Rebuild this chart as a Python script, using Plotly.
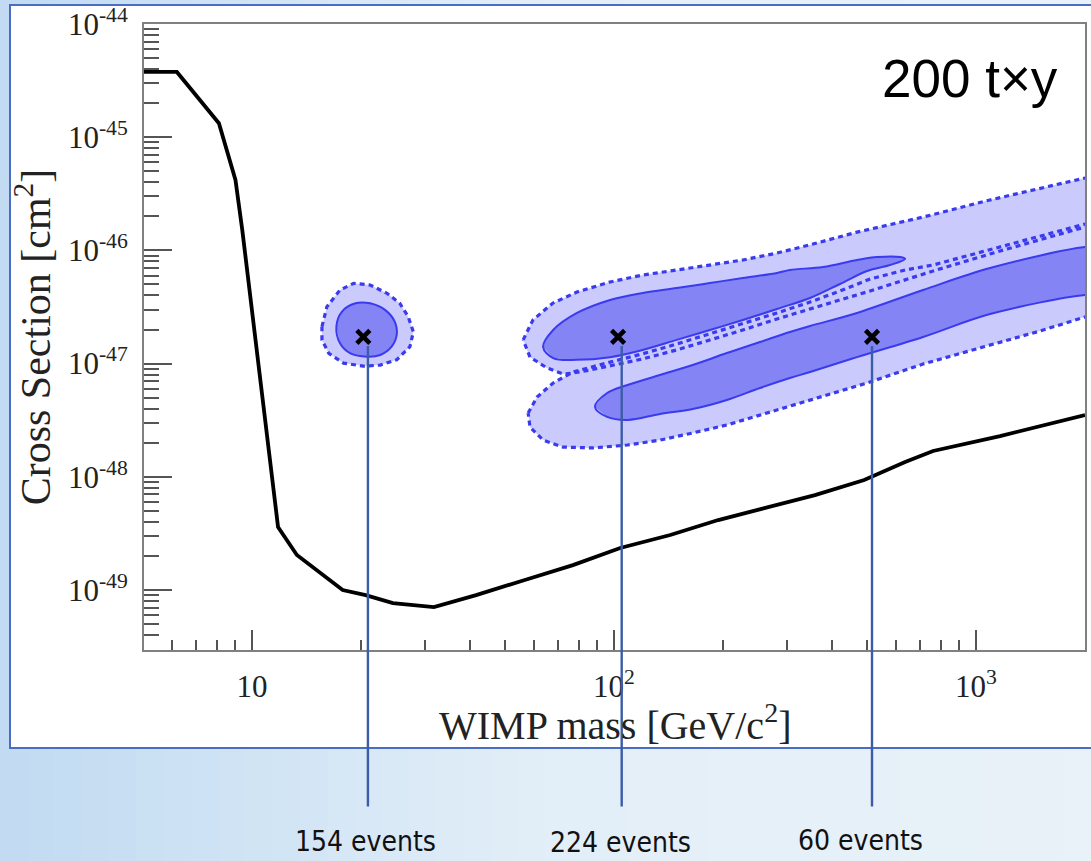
import numpy as np
import plotly.graph_objects as go

# ---------------- data (mass in GeV/c^2, cross section in cm^2) ----------------
limit_mass = [5.0, 6.2, 8.1, 9.0, 9.4, 9.9, 10.3, 11.0, 11.4, 11.8, 13.3, 15.1, 17.8, 20.6,
              24.5, 31.8, 41.6, 56.4, 77.0, 104, 143, 194, 265, 359, 491, 637, 761, 1165, 2000]
limit_xs = [3.77e-45, 3.77e-45, 1.33e-45, 4.19e-46, 1.51e-46, 3.89e-47, 1.40e-47, 2.59e-48,
            9.37e-49, 3.60e-49, 2.04e-49, 1.50e-49, 1.00e-49, 9.0e-50, 7.67e-50, 7.07e-50,
            9.0e-50, 1.22e-49, 1.66e-49, 2.35e-49, 3.06e-49, 4.15e-49, 5.41e-49, 6.90e-49,
            9.37e-49, 1.35e-48, 1.69e-48, 2.29e-48, 3.51e-48]

# 20 GeV point: 2-sigma (outer) and 1-sigma (inner) contours
c20_out_mass = [15.6, 16.1, 17.5, 19.1, 21.2, 23.6, 25.6, 27.0, 27.9, 27.3, 25.1, 22.6, 20.3, 17.9, 16.3, 15.6]
c20_out_xs = [2.12e-47, 3.18e-47, 4.47e-47, 5.12e-47, 4.95e-47, 4.18e-47, 3.41e-47, 2.60e-47,
              1.91e-47, 1.41e-47, 1.08e-47, 9.7e-48, 9.5e-48, 1.01e-47, 1.23e-47, 1.62e-47]
c20_in_mass = [17.1, 17.7, 19.3, 21.2, 23.3, 24.8, 25.1, 24.3, 22.6, 20.8, 18.7, 17.5]
c20_in_xs = [2.12e-47, 2.87e-47, 3.41e-47, 3.41e-47, 2.98e-47, 2.34e-47, 1.79e-47, 1.41e-47,
             1.19e-47, 1.15e-47, 1.23e-47, 1.51e-47]

# 100 GeV point (upper band)
c100_out_mass = [56.1, 59.7, 67.8, 79.0, 97.5, 120, 149, 184, 227, 282, 348, 469, 714, 1093, 2000,
                 2300, 2300,
                 2000, 1165, 761, 637, 510, 421, 348, 282, 227, 184, 149, 120, 97.5, 85.9, 77.0,
                 72.3, 65.3, 58.6]
c100_out_xs = [1.62e-47, 2.43e-47, 3.43e-47, 4.29e-47, 5.26e-47, 6.06e-47, 6.71e-47, 7.43e-47,
               8.23e-47, 9.48e-47, 1.12e-46, 1.45e-46, 1.97e-46, 2.79e-46, 4.36e-46,
               4.36e-46, 1.61e-46,
               1.61e-46, 9.88e-47, 6.58e-47, 5.48e-47, 4.38e-47, 3.65e-47, 3.04e-47, 2.48e-47,
               1.98e-47, 1.62e-47, 1.32e-47, 1.10e-47, 9.52e-48, 8.78e-48, 8.26e-48, 8.09e-48,
               9.15e-48, 1.14e-47]
c100_in_mass = [63.7, 67.9, 79.0, 97.5, 120, 149, 184, 227, 282, 306, 378, 469, 533, 617, 637,
                579, 500, 421, 348, 282, 227, 184, 149, 120, 97.5, 79.0, 67.9]
c100_in_xs = [1.40e-47, 1.98e-47, 2.80e-47, 3.65e-47, 4.21e-47, 4.65e-47, 5.15e-47, 5.70e-47,
              6.31e-47, 6.71e-47, 7.14e-47, 8.23e-47, 8.74e-47, 8.74e-47, 8.40e-47,
              7.43e-47, 6.58e-47, 5.05e-47, 3.80e-47, 3.04e-47, 2.43e-47, 1.98e-47, 1.62e-47,
              1.32e-47, 1.14e-47, 1.08e-47, 1.12e-47]

# 500 GeV point (lower band)
c500_out_mass = [57.9, 61.3, 67.9, 77.0, 97.5, 120, 149, 184, 227, 282, 348, 421, 510, 637, 761,
                 1165, 2000, 2300, 2300,
                 2000, 1502, 1045, 714, 500, 395, 312, 253, 205, 165, 134, 109, 87.5, 72.3, 63.7, 58.6]
c500_out_xs = [3.66e-48, 5.07e-48, 6.74e-48, 8.43e-48, 1.03e-47, 1.22e-47, 1.49e-47, 1.83e-47,
               2.24e-47, 2.80e-47, 3.50e-47, 4.38e-47, 5.59e-47, 6.71e-47, 7.43e-47, 1.07e-46,
               1.71e-46, 1.71e-46, 2.58e-47,
               2.58e-47, 1.94e-47, 1.40e-47, 9.92e-48, 6.74e-48, 5.39e-48, 4.31e-48, 3.52e-48,
               2.87e-48, 2.44e-48, 2.11e-48, 1.91e-48, 1.80e-48, 1.83e-48, 2.11e-48, 2.75e-48]
c500_in_mass = [88.6, 95.7, 109, 134, 165, 205, 253, 306, 348, 469, 714, 1093, 2000, 2300, 2300,
                2000, 1093, 714, 469, 348, 306, 253, 205, 165, 134, 109, 95.7]
c500_in_xs = [4.14e-48, 5.50e-48, 6.47e-48, 7.93e-48, 9.72e-48, 1.24e-47, 1.55e-47, 1.90e-47,
              2.15e-47, 2.80e-47, 4.47e-47, 6.99e-47, 1.07e-46, 1.07e-46, 4.04e-47,
              4.04e-47, 2.74e-47, 1.72e-47, 1.14e-47, 8.43e-48, 7.46e-48, 6.09e-48, 4.77e-48,
              3.97e-48, 3.59e-48, 3.18e-48, 3.38e-48]

# benchmark points and their labels
bench_mass = [20.3, 102.6, 516]
bench_xs = [1.72e-47, 1.72e-47, 1.72e-47]
leader_mass = [20.9, 105.0, 516]
label_mass = [20.6, 103.9, 481]
label_text = ["154 events", "224 events", "60 events"]

x_major = [10, 100, 1000]
x_major_text = ["10", "10<sup>2</sup>", "10<sup>3</sup>"]
x_minor = [k * 10 ** n for n in range(0, 4) for k in range(2, 10) if 5 < k * 10 ** n < 2000]
y_major = [1e-49, 1e-48, 1e-47, 1e-46, 1e-45, 1e-44]
y_major_text = ["10<sup>-49</sup>", "10<sup>-48</sup>", "10<sup>-47</sup>",
                "10<sup>-46</sup>", "10<sup>-45</sup>", "10<sup>-44</sup>"]
y_minor = [k * 10.0 ** n for n in range(-50, -44) for k in range(2, 10)]

# ---------------- styles ----------------
LIGHT = "#cacafd"
MEDIUM = "#8484f4"
EDGE = "#3a3aef"
SERIF = "Liberation Serif, Times New Roman, serif"

fig = go.Figure()

outer = [(c100_out_mass, c100_out_xs), (c500_out_mass, c500_out_xs), (c20_out_mass, c20_out_xs)]
inner = [(c100_in_mass, c100_in_xs), (c500_in_mass, c500_in_xs), (c20_in_mass, c20_in_xs)]

for m, s in outer:
    fig.add_trace(go.Scatter(x=m, y=s, mode="lines", fill="toself", fillcolor=LIGHT,
                             line=dict(width=0), hoverinfo="skip"))
for m, s in inner:
    fig.add_trace(go.Scatter(x=m, y=s, mode="lines", fill="toself", fillcolor=MEDIUM,
                             line=dict(width=0), line_shape="spline", hoverinfo="skip"))
for m, s in outer:
    fig.add_trace(go.Scatter(x=list(m) + [m[0]], y=list(s) + [s[0]], mode="lines",
                             line=dict(color=EDGE, width=3.2, dash="5px,4px"), hoverinfo="skip"))
for m, s in inner:
    fig.add_trace(go.Scatter(x=list(m) + [m[0]], y=list(s) + [s[0]], mode="lines",
                             line=dict(color=EDGE, width=2), hoverinfo="skip",
                             line_shape="spline"))

fig.add_trace(go.Scatter(x=limit_mass, y=limit_xs, mode="lines",
                         line=dict(color="black", width=3.8), hoverinfo="skip"))
fig.add_trace(go.Scatter(x=bench_mass, y=bench_xs, mode="markers",
                         marker=dict(symbol="x-thin", size=13, line=dict(width=4.5, color="black")),
                         hoverinfo="skip"))

# ---------------- background decoration ----------------
W, H = 1091, 861
L, R, T, B = 144, 6, 24, 211
pw, ph = W - L - R, H - T - B

def px2paper_x(px):
    return (px - L) / pw

def px2paper_y(py):
    return (H - B - py) / ph

shapes = []
nstrip = 40
c0 = np.array([194, 219, 242])
c1 = np.array([227, 239, 248])
c2 = np.array([233, 242, 249])
for i in range(nstrip):
    f = i / (nstrip - 1)
    if f < 0.5:
        c = c0 + (c1 - c0) * (f / 0.5)
    else:
        c = c1 + (c2 - c1) * ((f - 0.5) / 0.5)
    x0 = W * i / nstrip
    x1 = W * (i + 1) / nstrip + 1
    shapes.append(dict(type="rect", xref="paper", yref="paper", layer="below",
                       x0=px2paper_x(x0), x1=px2paper_x(x1), y0=px2paper_y(H + 2), y1=px2paper_y(-2),
                       fillcolor="rgb(%d,%d,%d)" % tuple(c.astype(int)), line=dict(width=0)))
shapes.append(dict(type="rect", xref="paper", yref="paper", layer="below",
                   x0=px2paper_x(10), x1=px2paper_x(1100), y0=px2paper_y(748), y1=px2paper_y(5),
                   fillcolor="white", line=dict(color="#4a6cc2", width=2)))

annotations = []
for lm, bx in zip(leader_mass, bench_xs):
    annotations.append(dict(x=np.log10(lm), y=np.log10(bx), xref="x", yref="y", text="",
                            showarrow=True, arrowhead=0, arrowwidth=2.4, arrowcolor="#3b5ca8",
                            ax=0, ay=471, standoff=9))
for lm, bx, t, dy in zip(label_mass, bench_xs, label_text, [-505, -506, -504]):
    annotations.append(dict(x=np.log10(lm), y=np.log10(bx), xref="x", yref="y", text=t,
                            showarrow=False, yshift=dy, xanchor="center", yanchor="middle",
                            font=dict(family="DejaVu Sans Condensed, Liberation Sans Narrow, sans-serif",
                                      size=28, color="#111")))
annotations.append(dict(x=px2paper_x(970), y=px2paper_y(78), xref="paper", yref="paper",
                        text="200 t\u00d7y", showarrow=False, xanchor="center", yanchor="middle",
                        font=dict(family="Liberation Sans, Arial, sans-serif", size=53, color="black")))
annotations.append(dict(x=0.5, y=px2paper_y(722), xref="paper", yref="paper",
                        text="WIMP mass [GeV/c<sup>2</sup>]", showarrow=False,
                        xanchor="center", yanchor="middle",
                        font=dict(family=SERIF, size=40, color="#222")))

fig.update_layout(
    width=W, height=H,
    margin=dict(l=L, r=R, t=T, b=B, autoexpand=False),
    paper_bgcolor="#dbeaf6",
    plot_bgcolor="white",
    showlegend=False,
    hovermode=False,
    shapes=shapes,
    annotations=annotations,
    xaxis=dict(type="log", range=[np.log10(5.03), np.log10(2000)], showgrid=False, zeroline=False,
               showline=True, linecolor="#808080", linewidth=2, mirror=True,
               ticks="inside", ticklen=20, tickwidth=1.5, tickcolor="#555",
               tickmode="array", tickvals=x_major, ticktext=x_major_text,
               tickfont=dict(family=SERIF, size=31, color="#222"), ticklabelstandoff=8,
               minor=dict(ticks="inside", ticklen=10, tickwidth=1.5, tickcolor="#555",
                          tickmode="array", tickvals=x_minor, showgrid=False)),
    yaxis=dict(type="log", range=[-49.53, -44.0], showgrid=False, zeroline=False,
               showline=True, linecolor="#808080", linewidth=2, mirror=True,
               ticks="inside", ticklen=28, tickwidth=1.5, tickcolor="#555",
               tickmode="array", tickvals=y_major, ticktext=y_major_text,
               tickfont=dict(family=SERIF, size=31, color="#222"), ticklabelstandoff=8,
               minor=dict(ticks="inside", ticklen=15, tickwidth=1.5, tickcolor="#555",
                          tickmode="array", tickvals=y_minor, showgrid=False),
               title=dict(text="Cross Section [cm<sup>2</sup>]",
                          font=dict(family=SERIF, size=42, color="#222"), standoff=4)),
)

fig.write_html("out.html")
